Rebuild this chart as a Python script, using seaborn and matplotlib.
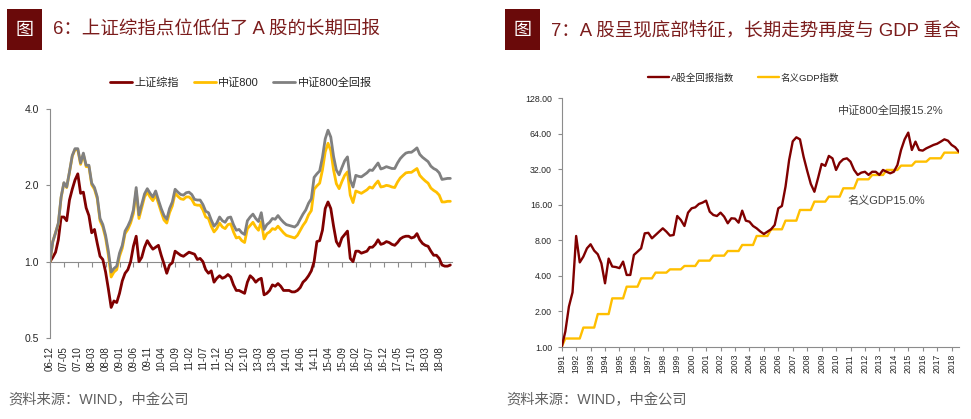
import numpy as np
import pandas as pd
import matplotlib.pyplot as plt
import matplotlib.ticker as mticker
from matplotlib.patches import Rectangle
import seaborn as sns

# ---- 图6: monthly, 2006-12 .. 2018-12, rebased to 1.0 ----
sz_composite = [
    1.00, 1.04, 1.09, 1.22, 1.50, 1.50, 1.45, 1.75, 1.93, 2.10,
    2.22, 1.86, 1.88, 1.63, 1.52, 1.30, 1.34, 1.18, 1.05, 1.02,
    0.91, 0.78, 0.66, 0.70, 0.69, 0.75, 0.84, 0.90, 0.93, 1.00,
    1.15, 1.26, 1.00, 1.04, 1.14, 1.21, 1.16, 1.12, 1.14, 1.16,
    1.06, 0.98, 0.90, 0.97, 0.99, 1.10, 1.08, 1.06, 1.05, 1.07,
    1.09, 1.08, 1.07, 1.02, 1.03, 1.00, 0.93, 0.90, 0.92, 0.83,
    0.86, 0.88, 0.86, 0.87, 0.89, 0.87, 0.81, 0.77, 0.77, 0.76,
    0.75, 0.83, 0.88, 0.86, 0.83, 0.85, 0.86, 0.74, 0.75, 0.77,
    0.81, 0.80, 0.82, 0.80, 0.77, 0.77, 0.77, 0.76, 0.76, 0.77,
    0.79, 0.83, 0.85, 0.88, 0.92, 1.00, 1.20, 1.21, 1.33, 1.62,
    1.72, 1.62, 1.38, 1.20, 1.15, 1.24, 1.28, 1.32, 1.03, 1.00,
    1.10, 1.10, 1.08, 1.09, 1.10, 1.14, 1.14, 1.17, 1.22, 1.17,
    1.18, 1.20, 1.19, 1.17, 1.16, 1.19, 1.23, 1.25, 1.26, 1.26,
    1.24, 1.25, 1.29, 1.22, 1.18, 1.16, 1.15, 1.10, 1.06, 1.06,
    1.03, 0.97, 0.96, 0.96, 0.97,
]
csi800 = [
    1.00, 1.20, 1.30, 1.41, 1.79, 2.04, 1.96, 2.25, 2.60, 2.77,
    2.76, 2.42, 2.65, 2.37, 2.37, 2.01, 1.93, 1.77, 1.45, 1.37,
    1.24, 1.06, 0.87, 0.91, 0.93, 1.05, 1.13, 1.29, 1.34, 1.42,
    1.55, 1.90, 1.48, 1.63, 1.80, 1.88, 1.80, 1.74, 1.84, 1.70,
    1.57, 1.46, 1.42, 1.56, 1.66, 1.86, 1.81, 1.77, 1.76, 1.80,
    1.80, 1.76, 1.68, 1.67, 1.67, 1.60, 1.50, 1.48, 1.38, 1.31,
    1.35, 1.42, 1.37, 1.35, 1.40, 1.41, 1.31, 1.24, 1.25, 1.21,
    1.19, 1.35, 1.39, 1.43, 1.37, 1.33, 1.44, 1.23, 1.29, 1.31,
    1.35, 1.34, 1.38, 1.34, 1.30, 1.27, 1.26, 1.25, 1.24, 1.27,
    1.33, 1.39, 1.44, 1.53, 1.59, 1.93, 1.99, 2.04, 2.30, 2.71,
    2.93, 2.74, 2.30, 2.03, 1.94, 2.07, 2.19, 2.26, 1.83, 1.71,
    1.90, 1.88, 1.86, 1.89, 1.92, 1.97, 1.95, 2.02, 2.08, 1.97,
    1.98, 2.00, 1.99, 1.97, 1.96, 2.06, 2.14, 2.19, 2.24, 2.25,
    2.25, 2.29, 2.33, 2.19, 2.13, 2.08, 2.04, 1.95, 1.91, 1.88,
    1.83, 1.72, 1.72, 1.73, 1.73,
]
csi800_total = [
    1.00, 1.20, 1.30, 1.42, 1.80, 2.05, 1.97, 2.26, 2.62, 2.79,
    2.79, 2.45, 2.68, 2.40, 2.40, 2.04, 1.96, 1.80, 1.48, 1.40,
    1.27, 1.10, 0.91, 0.94, 0.96, 1.08, 1.16, 1.32, 1.38, 1.46,
    1.60, 1.96, 1.53, 1.68, 1.85, 1.94, 1.86, 1.80, 1.90, 1.75,
    1.62, 1.52, 1.47, 1.62, 1.72, 1.93, 1.88, 1.84, 1.83, 1.87,
    1.88, 1.84, 1.76, 1.75, 1.75, 1.68, 1.58, 1.56, 1.46, 1.38,
    1.42, 1.50, 1.45, 1.43, 1.49, 1.50, 1.40, 1.33, 1.34, 1.30,
    1.28, 1.45, 1.50, 1.54, 1.48, 1.44, 1.56, 1.34, 1.40, 1.43,
    1.48, 1.47, 1.52, 1.47, 1.43, 1.40, 1.39, 1.38, 1.37, 1.40,
    1.47, 1.54, 1.60, 1.70, 1.77, 2.15, 2.22, 2.28, 2.58, 3.05,
    3.30, 3.10, 2.60, 2.30, 2.20, 2.35, 2.50, 2.59, 2.10, 1.97,
    2.19, 2.17, 2.16, 2.20, 2.24, 2.30, 2.29, 2.37, 2.45, 2.32,
    2.34, 2.37, 2.35, 2.33, 2.33, 2.45, 2.55, 2.62, 2.68, 2.70,
    2.70, 2.75, 2.81, 2.65, 2.58, 2.53, 2.48, 2.38, 2.33, 2.30,
    2.24, 2.11, 2.12, 2.13, 2.13,
]
left_xticklabels = [
    "06-12", "07-05", "07-10", "08-03", "08-08", "09-01", "09-06", "09-11",
    "10-04", "10-09", "11-02", "11-07", "11-12", "12-05", "12-10", "13-03",
    "13-08", "14-01", "14-06", "14-11", "15-04", "15-09", "16-02", "16-07",
    "16-12", "17-05", "17-10", "18-03", "18-08",
]
left_yticks = [0.5, 1.0, 2.0, 4.0]

# ---- 图7: quarterly, 1991 .. 2018, rebased to 1.0 ----
a_share_total = [
    1.00, 1.35, 2.20, 2.90, 8.70, 5.20, 5.82, 6.84, 7.40, 6.54,
    6.09, 5.10, 3.46, 5.60, 4.80, 4.75, 4.65, 5.28, 4.07, 4.07,
    6.01, 6.41, 6.84, 9.16, 9.25, 8.31, 8.87, 9.47, 10.10, 9.47,
    8.76, 8.87, 12.84, 11.88, 10.57, 13.71, 14.92, 15.21, 16.23, 16.66,
    17.32, 13.98, 13.10, 12.84, 13.71, 12.68, 11.14, 12.28, 12.20, 11.28,
    14.25, 11.73, 11.50, 10.57, 10.10, 9.50, 9.04, 9.47, 9.91, 10.78,
    14.92, 15.61, 22.75, 38.26, 55.0, 59.5, 57.2, 40.8, 31.0, 24.0,
    20.6, 26.8, 35.4, 34.1, 41.4, 39.5, 31.5, 36.3, 38.8, 39.5,
    37.0, 31.5, 28.6, 29.9, 30.4, 28.6, 30.4, 30.4, 28.6, 31.5,
    30.4, 29.5, 30.4, 34.7, 46.5, 57.2, 65.2, 46.5, 54.7, 46.5,
    45.9, 48.0, 49.6, 51.3, 52.5, 54.7, 57.2, 55.7, 51.3, 49.0,
    45.0,
]
nominal_gdp = [
    1.00, 1.18, 1.18, 1.18, 1.18, 1.18, 1.46, 1.46, 1.46, 1.46,
    1.90, 1.90, 1.90, 1.90, 2.58, 2.58, 2.58, 2.58, 3.24, 3.24,
    3.24, 3.24, 3.81, 3.81, 3.81, 3.81, 4.26, 4.26, 4.26, 4.26,
    4.54, 4.54, 4.54, 4.54, 4.85, 4.85, 4.85, 4.85, 5.38, 5.38,
    5.38, 5.38, 5.93, 5.93, 5.93, 5.93, 6.49, 6.49, 6.49, 6.49,
    7.30, 7.30, 7.30, 7.30, 8.70, 8.70, 8.70, 8.70, 9.91, 9.91,
    9.91, 9.91, 11.73, 11.73, 11.73, 11.73, 14.44, 14.44, 14.44, 14.44,
    16.99, 16.99, 16.99, 16.99, 18.72, 18.72, 18.72, 18.72, 22.03, 22.03,
    22.03, 22.03, 26.25, 26.25, 26.25, 26.25, 28.56, 28.56, 28.56, 28.56,
    31.50, 31.50, 31.50, 31.50, 34.27, 34.27, 34.27, 34.27, 37.04, 37.04,
    37.04, 37.04, 39.53, 39.53, 39.53, 39.53, 44.14, 44.14, 44.14, 44.14,
    44.14,
]
right_years = list(range(1991, 2019))
right_yticks = [1, 2, 4, 8, 16, 32, 64, 128]

RED = "#800000"
GOLD = "#ffbf00"
GRAY = "#808080"
AXIS = "#8c8c8c"
TITLE = "#7b1c1c"
BOX = "#6a0a0a"

sns.set_style("white")
plt.rcParams["font.family"] = ["Liberation Sans", "Noto Sans CJK SC", "DejaVu Sans"]

W, H = 971, 419
fig = plt.figure(figsize=(W / 100, H / 100), dpi=100)


def box(x0, y0, x1, y1):
    # pixel rectangle -> figure fraction [left, bottom, width, height]
    return [x0 / W, 1 - y1 / H, (x1 - x0) / W, (y1 - y0) / H]


# titles and sources
for x0, text in [(7, "6：上证综指点位低估了 A 股的长期回报"),
                 (505, "7：A 股呈现底部特征，长期走势再度与 GDP 重合")]:
    fig.patches.append(Rectangle((x0 / W, 1 - 50 / H), 35 / W, 41 / H,
                                 transform=fig.transFigure, facecolor=BOX, edgecolor="none"))
    fig.text((x0 + 17.5) / W, 1 - 30 / H, "图", color="white", fontsize=13,
             ha="center", va="center")
    fig.text((x0 + 46) / W, 1 - 30 / H, text, color=TITLE, fontsize=13.3,
             ha="left", va="center")
    fig.text((x0 + 1) / W, 1 - 400 / H, "资料来源：WIND，中金公司", color="#606060",
             fontsize=10.3, ha="left", va="center")

# ---- left chart ----
ax1 = fig.add_axes(box(50, 109, 452, 338))
df1 = pd.DataFrame({
    "month": np.arange(len(sz_composite)),
    "上证综指": sz_composite,
    "中证800": csi800,
    "中证800全回报": csi800_total,
}).melt(id_vars="month", var_name="series", value_name="value")
sns.lineplot(data=df1, x="month", y="value", hue="series",
             palette=[RED, GOLD, GRAY], linewidth=2, ax=ax1)
ax1.set_yscale("log", base=2)
ax1.set_ylim(0.5, 4.0)
ax1.set_xlim(0, 144.6)
ax1.set_yticks(left_yticks)
ax1.set_yticklabels([f"{v:.1f}" for v in left_yticks])
ax1.yaxis.set_minor_locator(mticker.NullLocator())
tick_pos = np.arange(len(left_xticklabels)) * 5
ax1.set_xticks(tick_pos)
ax1.set_xticklabels(left_xticklabels, rotation=90, fontsize=7)
ax1.tick_params(axis="x", bottom=False, length=0, pad=6)
ax1.tick_params(axis="y", left=True, length=3, color=AXIS, labelsize=7.5, pad=5)
for s in ["top", "right", "bottom"]:
    ax1.spines[s].set_visible(False)
ax1.spines["left"].set_color(AXIS)
ax1.set_xlabel("")
ax1.set_ylabel("")

# horizontal axis crossing at 1.0
sec = ax1.secondary_xaxis(1 / 3)
sec.set_xticks(tick_pos, labels=[])
sec.tick_params(bottom=True, top=False, length=3.5, color=AXIS, direction="out")
for s in sec.spines.values():
    s.set_color(AXIS)

sns.move_legend(ax1, "center", bbox_to_anchor=(0.475, 1.113), ncol=3, frameon=False,
                title=None, fontsize=8, handlelength=2.0, columnspacing=1.3,
                handletextpad=0.2)

# ---- right chart ----
ax2 = fig.add_axes(box(561.7, 98, 958.8, 347))
df2 = pd.DataFrame({
    "t": 1991 + np.arange(len(a_share_total)) / 4,
    "A股全回报指数": a_share_total,
    "名义GDP指数": nominal_gdp,
}).melt(id_vars="t", var_name="series", value_name="value")
sns.lineplot(data=df2, x="t", y="value", hue="series",
             palette=[RED, GOLD], linewidth=1.7, ax=ax2)
ax2.lines[0].set_zorder(3)
ax2.set_yscale("log", base=2)
ax2.set_ylim(1, 128)
ax2.set_xlim(1991, 2018.5)
ax2.set_yticks(right_yticks)
ax2.set_yticklabels([f"{v:.2f}" for v in right_yticks])
ax2.yaxis.set_minor_locator(mticker.NullLocator())
ax2.set_xticks(right_years)
ax2.set_xticklabels([str(y) for y in right_years], rotation=90, fontsize=6.2)
ax2.tick_params(axis="x", bottom=True, length=3, color=AXIS, pad=2)
ax2.tick_params(axis="y", left=True, length=3, color=AXIS, labelsize=6.3, pad=4)
for s in ["top", "right"]:
    ax2.spines[s].set_visible(False)
for s in ["left", "bottom"]:
    ax2.spines[s].set_color(AXIS)
ax2.set_xlabel("")
ax2.set_ylabel("")

ax2.text(2013.8, 99, "中证800全回报15.2%", ha="center", va="center",
         fontsize=8, color="#404040")
ax2.text(2013.45, 17.2, "名义GDP15.0%", ha="center", va="center",
         fontsize=8, color="#404040")

sns.move_legend(ax2, "center", bbox_to_anchor=(0.458, 1.08), ncol=2, frameon=False,
                title=None, fontsize=6.8, handlelength=2.2, columnspacing=2.5,
                handletextpad=0.2)

fig.savefig("out.png", dpi=100)
